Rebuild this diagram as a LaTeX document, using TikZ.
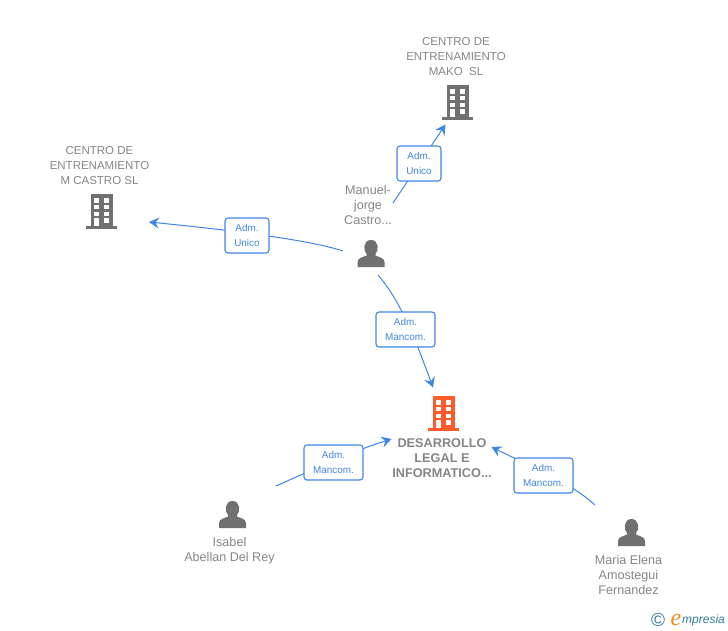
\documentclass[tikz,border=0pt]{standalone}
\usepackage{fontspec}
\setmainfont{Liberation Sans}
\newfontfamily\logofont{Liberation Serif}
\usetikzlibrary{arrows.meta}
\definecolor{linkblue}{HTML}{3F86E6}
\definecolor{txtgray}{HTML}{858585}
\definecolor{icongray}{HTML}{707070}
\definecolor{iconorange}{HTML}{FF5A2B}
\definecolor{logoteal}{HTML}{2F7F96}
\definecolor{logoorange}{HTML}{F08A1D}
\tikzset{
  x=1pt,y=1pt,
  caption/.style={text=txtgray,font=\fontsize{11.5}{15}\selectfont,align=center,inner sep=0pt,anchor=north},
  personcap/.style={caption,font=\fontsize{12.6}{15}\selectfont},
  captionbold/.style={caption,font=\fontsize{12.7}{15}\selectfont\bfseries},
  linkbox/.style={draw=linkblue,line width=1.1pt,rounded corners=3pt,top color=white,bottom color=white,middle color=white,
     text=linkblue,font=\fontsize{9.9}{15}\selectfont,align=center,inner sep=0pt,minimum height=35pt},
  link/.style={draw=linkblue,line width=1pt,-{Stealth[length=10pt,width=11pt,inset=3.5pt]}},
  pics/bldg/.style={code={
    \fill[#1] (-11,0) rectangle (11,35);
    \fill[#1] (-15.5,0) rectangle (15.5,3);
    \foreach \yy in {26.4,19.7,13}{\fill[white] (-7.3,\yy) rectangle (-2.7,\yy+4.3);\fill[white] (2.2,\yy) rectangle (7,\yy+4.3);}
    \fill[white] (-7.3,3) rectangle (-2.7,10.7);
    \fill[white] (2.2,6.4) rectangle (7,10.7);
  }},
  pics/person/.style={code={
    \fill[icongray] (-13.5,0) -- (-13.5,5) .. controls (-13.5,9.5) and (-7,10) .. (-4.5,11.5) -- (-4.5,13)
      .. controls (-8,16) and (-8,27) .. (0,27) .. controls (8,27) and (8,16) .. (4.5,13) -- (4.5,11.5)
      .. controls (7,10) and (13.5,9.5) .. (13.5,5) -- (13.5,0) -- cycle;
  }}
}
\begin{document}
\begin{tikzpicture}
\useasboundingbox (0,0) rectangle (728,-630);
% icons
\pic at (457.5,-120) {bldg=icongray};
\pic at (101.5,-229) {bldg=icongray};
\pic at (443.5,-431) {bldg=iconorange};
\pic at (371,-267) {person};
\pic at (232.5,-528) {person};
\pic at (631.5,-546) {person};
% captions
\node[caption] (mako) at (456,-37.5) {CENTRO DE\\ENTRENAMIENTO\\MAKO\ \ SL};
\node[caption] (castro) at (99.5,-146.5) {CENTRO DE\\ENTRENAMIENTO\\M CASTRO SL};
\node[personcap] (manuel) at (368,-185.5) {Manuel-\\jorge\\Castro...};
\node[captionbold] (desarrollo) at (442,-438.5) {DESARROLLO\\LEGAL E\\INFORMATICO...};
\node[personcap] (isabel) at (229.5,-537.5) {Isabel\\Abellan Del Rey};
\node[personcap] (maria) at (628.5,-555.5) {Maria Elena\\Amostegui\\Fernandez};
% connector ends
\coordinate (m1) at (393,-203);
\coordinate (t1) at (445.5,-124.5);
\coordinate (m2) at (343,-251);
\coordinate (t2) at (149,-222);
\coordinate (m3) at (378,-275);
\coordinate (t3) at (433,-387.5);
\coordinate (i1) at (276,-486);
\coordinate (t4) at (391.5,-439);
\coordinate (f1) at (595,-505);
\coordinate (t5) at (491.5,-447);
% connectors
\path[link] (m1) -- (t1);
\path[link] (m2) .. controls (310,-240) and (230,-230) .. (t2);
\path[link] (m3) .. controls (398,-298) and (412,-330) .. (t3);
\path[link] (i1) .. controls (310,-471) and (350,-452) .. (t4);
\path[link] (f1) .. controls (570,-482) and (530,-466) .. (t5);
% labels
\node[linkbox,minimum width=44pt] (l1) at (419,-163.5) {Adm.\\Unico};
\node[linkbox,minimum width=44pt] (l2) at (247,-235.5) {Adm.\\Unico};
\node[linkbox,minimum width=59pt] (l3) at (405.5,-329.5) {Adm.\\Mancom.};
\node[linkbox,minimum width=59pt] (l4) at (333.5,-462.5) {Adm.\\Mancom.};
\node[linkbox,minimum width=59pt] (l5) at (543.5,-475.5) {Adm.\\Mancom.};
% logo
\node[text=logoteal,font=\fontsize{19}{19}\selectfont,inner sep=0pt] (copyr) at (658,-619.5) {©};
\node[text=logoorange,font=\logofont\itshape\fontsize{24}{24}\selectfont,inner sep=0pt,anchor=base west] (logoe) at (670.5,-625) {e};
\node[text=logoteal,font=\itshape\fontsize{12}{14}\selectfont,inner sep=0pt,anchor=base west] (logotxt) at (682,-623.5) {mpresia};
\end{tikzpicture}
\end{document}
